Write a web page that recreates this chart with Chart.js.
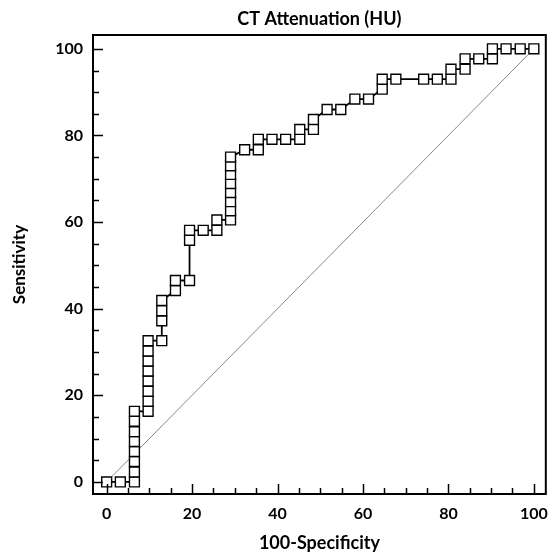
<!DOCTYPE html>
<html><head><meta charset="utf-8">
<script src="https://cdn.jsdelivr.net/npm/chart.js@4.4.0/dist/chart.umd.min.js"></script>
<style>html,body{margin:0;padding:0;background:#fff;}#wrap{width:558px;height:555px;}</style>
</head><body><div id="wrap"><canvas id="c" width="558" height="555"></canvas></div>
<script>
const chartTitle = 'CT Attenuation (HU)';
const xTitle = '100-Specificity';
const yTitle = 'Sensitivity';

// ROC curve points (100-Specificity, Sensitivity) in %
const specValues = [0, 3.2, 6.5, 6.5, 6.5, 6.5, 6.5, 6.5, 6.5, 6.5,
  9.7, 9.7, 9.7, 9.7, 9.7, 9.7, 9.7, 9.7,
  12.9, 12.9, 12.9, 12.9, 16.1, 16.1, 19.4, 19.4, 19.4, 22.6, 25.8, 25.8,
  29.0, 29.0, 29.0, 29.0, 29.0, 29.0, 29.0, 29.0,
  32.3, 35.5, 35.5, 38.7, 41.9, 45.2, 45.2, 48.4, 48.4, 51.6, 54.8, 58.1, 61.3,
  64.5, 64.5, 67.7, 74.2, 77.4, 80.6, 80.6, 83.9, 83.9, 87.1, 90.3, 90.3, 93.5, 96.8, 100];
const sensValues = [0, 0, 0, 2.3, 4.7, 7.0, 9.3, 11.6, 14.0, 16.3,
  16.3, 18.6, 20.9, 23.3, 25.6, 27.9, 30.2, 32.6,
  32.6, 37.2, 39.5, 41.9, 44.2, 46.5, 46.5, 55.8, 58.1, 58.1, 58.1, 60.5,
  60.5, 62.6, 64.7, 66.8, 68.9, 71.0, 73.0, 75.0,
  76.7, 76.7, 79.1, 79.1, 79.1, 79.1, 81.4, 81.4, 83.7, 86.0, 86.0, 88.4, 88.4,
  90.7, 93.0, 93.0, 93.0, 93.0, 93.0, 95.3, 95.3, 97.7, 97.7, 97.7, 100, 100, 100, 100];

// Reference (chance) line
const refX = [0, 100];
const refY = [0, 100];

// Axis ticks
const tickValues = [0, 20, 40, 60, 80, 100];
const minorTickValues = [0, 5, 10, 15, 20, 25, 30, 35, 40, 45, 50, 55, 60, 65, 70, 75, 80, 85, 90, 95, 100];

const FONT = 'Lato, "Open Sans", sans-serif';

const framePlugin = {
  id: 'frame',
  beforeDraw(chart) {
    const ctx = chart.ctx;
    ctx.save();
    ctx.fillStyle = '#fff';
    ctx.fillRect(0, 0, chart.width, chart.height);
    ctx.restore();
  },
  afterDraw(chart) {
    const {ctx, chartArea: a, scales} = chart;
    ctx.save();
    ctx.strokeStyle = '#000';
    ctx.lineWidth = 1.5;
    minorTickValues.forEach(v => {
      const len = tickValues.includes(v) ? 10 : 6;
      const px = Math.round(scales.x.getPixelForValue(v)) + 0.5;
      ctx.beginPath(); ctx.moveTo(px, a.bottom); ctx.lineTo(px, a.bottom - len); ctx.stroke();
      const py = Math.round(scales.y.getPixelForValue(v)) + 0.5;
      ctx.beginPath(); ctx.moveTo(a.left, py); ctx.lineTo(a.left + len, py); ctx.stroke();
    });
    ctx.lineWidth = 2;
    ctx.strokeRect(a.left, a.top, a.right - a.left, a.bottom - a.top);
    ctx.fillStyle = '#000';
    ctx.font = 'bold 18px ' + FONT;
    ctx.textAlign = 'center';
    ctx.textBaseline = 'middle';
    ctx.fillText(chartTitle, (a.left + a.right) / 2, 19);
    ctx.restore();
  }
};

new Chart(document.getElementById('c'), {
  type: 'scatter',
  data: {
    datasets: [
      {
        data: refX.map((x, i) => ({x, y: refY[i]})),
        showLine: true, borderColor: '#8a8a8a', borderWidth: 1,
        pointRadius: 0, order: 1
      },
      {
        data: specValues.map((x, i) => ({x, y: sensValues[i]})),
        showLine: true, borderColor: '#000', borderWidth: 1.8, tension: 0,
        pointStyle: 'rect', pointRadius: 7, pointBackgroundColor: '#fff',
        pointBorderColor: '#000', pointBorderWidth: 1.4, order: 0
      }
    ]
  },
  options: {
    responsive: false, devicePixelRatio: 1, animation: false,
    layout: {padding: {top: 35, right: 7, left: 0, bottom: 0}},
    plugins: {legend: {display: false}, tooltip: {enabled: false}, title: {display: false}},
    scales: {
      x: {
        type: 'linear', min: -3.2, max: 102.8,
        afterBuildTicks: s => { s.ticks = tickValues.map(v => ({value: v})); },
        afterFit: s => { s.height = 61; },
        grid: {display: false, drawTicks: false}, border: {display: false},
        ticks: {color: '#000', font: {family: FONT, size: 16, weight: 'bold'}, padding: 10, maxRotation: 0},
        title: {display: true, text: xTitle, color: '#000', font: {family: FONT, size: 18, weight: 'bold'}, padding: {top: 0, bottom: 1}}
      },
      y: {
        type: 'linear', min: -2.8, max: 103.2,
        afterBuildTicks: s => { s.ticks = tickValues.map(v => ({value: v})); },
        afterFit: s => { s.width = 93; },
        grid: {display: false, drawTicks: false}, border: {display: false},
        ticks: {color: '#000', font: {family: FONT, size: 16, weight: 'bold'}, padding: 10},
        title: {display: true, text: yTitle, color: '#000', font: {family: FONT, size: 17, weight: 'bold'}, padding: {top: 9, bottom: 0}}
      }
    }
  },
  plugins: [framePlugin]
});
</script>
</body></html>
